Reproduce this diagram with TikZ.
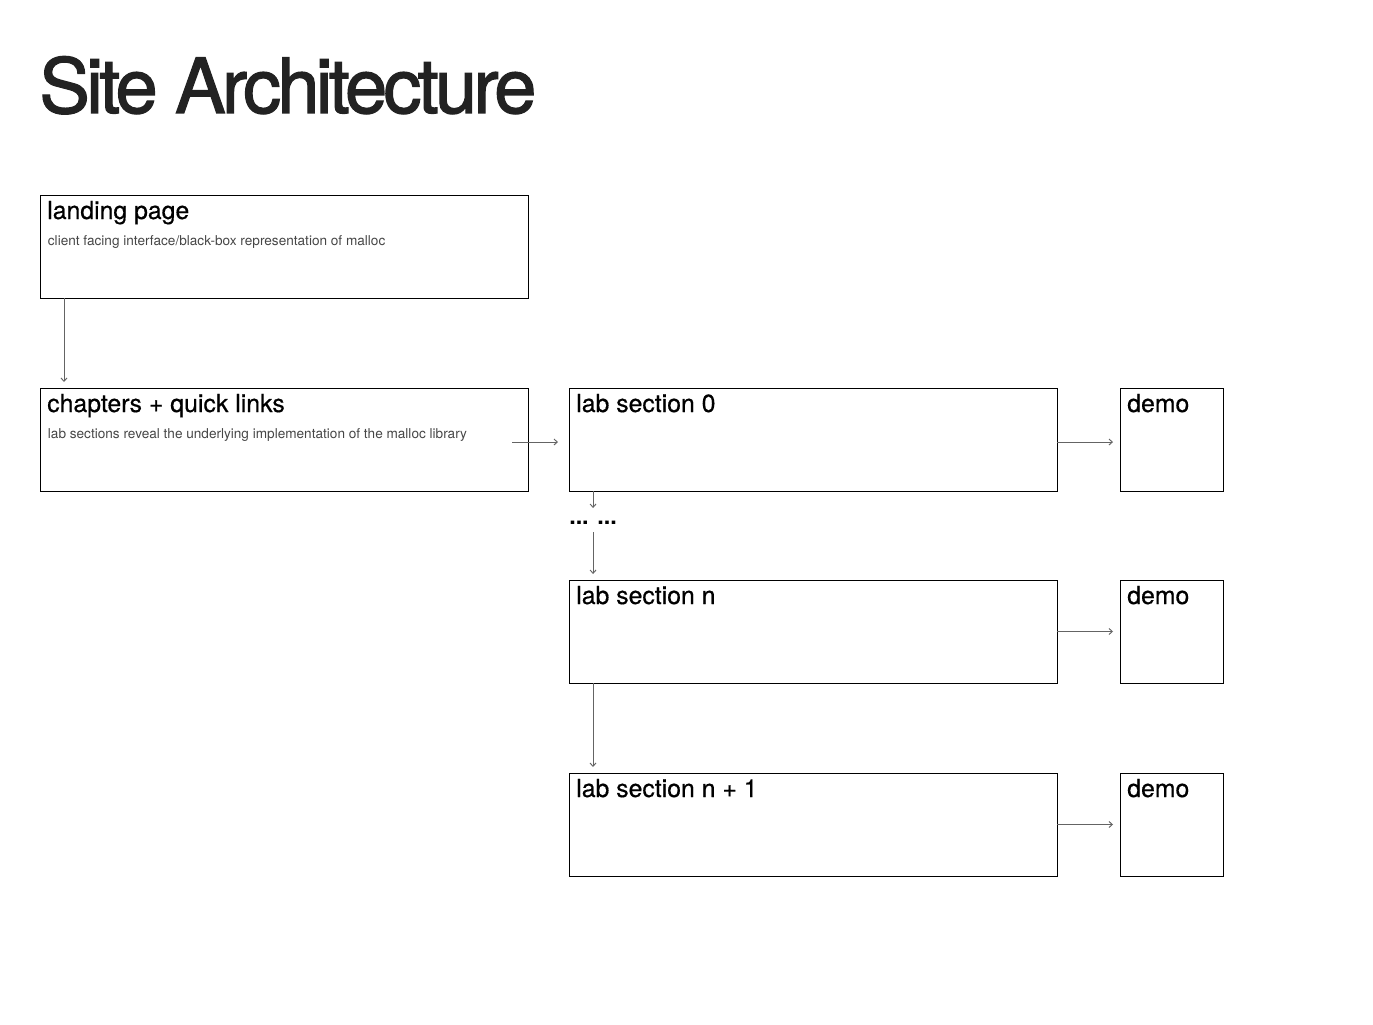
\documentclass[tikz,border=0pt]{standalone}
\usepackage{fontspec}
\setmainfont{TeX Gyre Heros}
\newfontfamily\titlefont[LetterSpace=-5, FakeBold=1.6]{TeX Gyre Heros}
\newfontfamily\headfont[FakeBold=0.5]{TeX Gyre Heros}
\usetikzlibrary{arrows.meta, positioning}
\definecolor{cInk}{RGB}{34,34,34}
\definecolor{cLink}{RGB}{100,100,100}
\definecolor{cNote}{RGB}{70,70,70}
\tikzset{
	section/.style={rectangle, draw=black, line width=0.75pt, outer sep=0pt, minimum width=366pt, minimum height=77.25pt, inner sep=0pt},
	demobox/.style={rectangle, draw=black, line width=0.75pt, outer sep=0pt, minimum width=77.25pt, minimum height=77.25pt, inner sep=0pt},
	head/.style={anchor=base west, inner sep=0pt, font=\headfont\fontsize{18.6}{20}\selectfont},
	note/.style={anchor=base west, inner sep=0pt, text=cNote, font=\fontsize{10.2}{12}\selectfont},
	link/.style={-{Straight Barb[length=2.5pt, width=4.5pt]}, draw=cLink, line width=0.7pt},
}
\begin{document}
\begin{tikzpicture}[x=0.75pt, y=-0.75pt]
	\useasboundingbox (0,0) rectangle (1373,1024);
	\node[anchor=base west, inner sep=0pt, text=cInk, font=\titlefont\fontsize{57}{60}\selectfont] (title) at (39,113) {Site Architecture};
	% boxes
	\node[section, anchor=north west] (landing) at (40,195) {};
	\node[section, below=67.5pt of landing] (chapters) {};
	\node[section, right=30.75pt of chapters] (lab0) {};
	\node[demobox, right=47.25pt of lab0] (demo0) {};
	\node[section, below=66.75pt of lab0] (labn) {};
	\node[demobox, right=47.25pt of labn] (demon) {};
	\node[section, below=67.5pt of labn] (labnn) {};
	\node[demobox, right=47.25pt of labnn] (demonn) {};
	% texts
	\node[head] (landing-hd) at ([shift={(5.25pt,-18pt)}]landing.north west) {landing page};
	\node[note] (landing-nt) at ([shift={(5.75pt,-37.5pt)}]landing.north west) {client facing interface/black-box representation of malloc};
	\node[head] (chapters-hd) at ([shift={(5.25pt,-18pt)}]chapters.north west) {chapters + quick links};
	\node[note] (chapters-nt) at ([shift={(5.75pt,-37.5pt)}]chapters.north west) {lab sections reveal the underlying implementation of the malloc library};
	\node[head] (lab0-hd) at ([shift={(5.25pt,-18pt)}]lab0.north west) {lab section 0};
	\node[head] (labn-hd) at ([shift={(5.25pt,-18pt)}]labn.north west) {lab section n};
	\node[head] (labnn-hd) at ([shift={(5.25pt,-18pt)}]labnn.north west) {lab section n + 1};
	\foreach \d in {demo0,demon,demonn}
		\node[head] (\d-hd) at ([shift={(5.25pt,-18pt)}]\d.north west) {demo};
	\node[head, font=\fontsize{17.5}{20}\selectfont\bfseries] (dots) at ([yshift=-24.75pt]lab0.south west) {... ...};
	% connectors
	\draw[link] ([xshift=18pt]landing.south west) -- ([xshift=18pt, yshift=4.5pt]chapters.north west);
	\draw[link] ([shift={(-12pt,-1.9pt)}]chapters.east) -- ([shift={(-8.25pt,-1.9pt)}]lab0.west);
	\draw[link] ([yshift=-1.9pt]lab0.east) -- ([shift={(-5.25pt,-1.9pt)}]demo0.west);
	\foreach \s/\d in {labn/demon, labnn/demonn}
		\draw[link] (\s.east) -- ([xshift=-5.25pt]\d.west);
	\draw[link] (lab0.south -| dots.base) -- ([yshift=12pt]dots.base);
	\draw[link] ([yshift=-6pt]dots.base) -- ([yshift=4.5pt]labn.north -| dots.base);
	\draw[link] ([xshift=18pt]labn.south west) -- ([xshift=18pt, yshift=4.5pt]labnn.north west);
\end{tikzpicture}
\end{document}
